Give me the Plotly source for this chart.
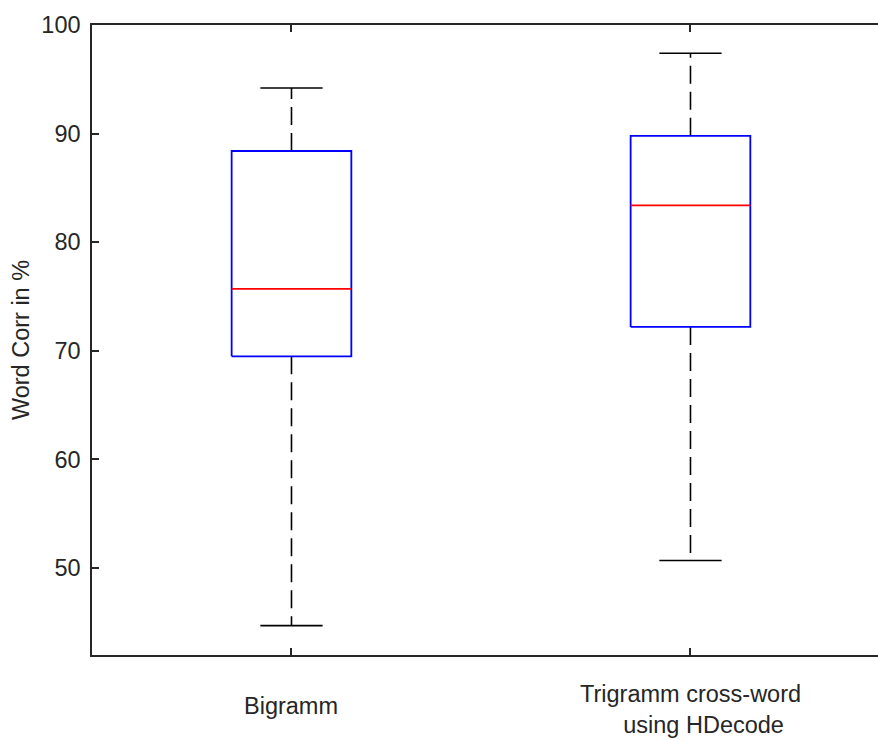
import plotly.graph_objects as go

# Box plot summary statistics (Word Corr in %)
categories = ["Bigramm", "Trigramm cross-word<br>\u00a0\u00a0\u00a0\u00a0using HDecode"]
positions = [1, 2]
lower_whisker = [44.7, 50.7]
q1 = [69.5, 72.2]
median = [75.7, 83.4]
q3 = [88.4, 89.8]
upper_whisker = [94.2, 97.4]

BOX_HALF = 0.15
CAP_HALF = 0.078
FONT = "Liberation Sans, Arial, sans-serif"
INK = "#262626"

fig = go.Figure()

for i, c in enumerate(positions):
    # dashed whiskers from box to caps
    fig.add_trace(go.Scatter(
        x=[c, c], y=[q3[i], upper_whisker[i]], mode="lines",
        line=dict(color="black", width=1.6, dash="18px,8px"), hoverinfo="skip"))
    fig.add_trace(go.Scatter(
        x=[c, c], y=[q1[i], lower_whisker[i]], mode="lines",
        line=dict(color="black", width=1.6, dash="18px,8px"), hoverinfo="skip"))
    # whisker caps
    for w in (upper_whisker[i], lower_whisker[i]):
        fig.add_trace(go.Scatter(
            x=[c - CAP_HALF, c + CAP_HALF], y=[w, w], mode="lines",
            line=dict(color="black", width=1.6), hoverinfo="skip"))
    # interquartile box
    fig.add_trace(go.Scatter(
        x=[c - BOX_HALF, c + BOX_HALF, c + BOX_HALF, c - BOX_HALF, c - BOX_HALF],
        y=[q1[i], q1[i], q3[i], q3[i], q1[i]], mode="lines",
        line=dict(color="#0000ff", width=1.8), hoverinfo="skip"))
    # median
    fig.add_trace(go.Scatter(
        x=[c - BOX_HALF, c + BOX_HALF], y=[median[i], median[i]], mode="lines",
        line=dict(color="#ff0000", width=1.8), hoverinfo="skip"))

# category labels under the axis; multi-line labels sit a little higher
for c, label in zip(positions, categories):
    n_lines = label.count("<br>") + 1
    fig.add_annotation(
        x=c, xref="x", y=0, yref="paper", yanchor="top",
        text=label, showarrow=False, align="center", borderpad=0,
        font=dict(family=FONT, size=23.5, color=INK),
        yshift=-37 + 12 * (n_lines - 1),
    )

fig.update_layout(
    width=878, height=740,
    margin=dict(l=92, r=0, t=25, b=85),
    paper_bgcolor="white", plot_bgcolor="white",
    showlegend=False,
    font=dict(family=FONT, size=23.5, color=INK),
    xaxis=dict(
        range=[0.5, 2.47], tickvals=positions, showticklabels=False,
        showgrid=False, zeroline=False, automargin=False,
        showline=True, linecolor=INK, linewidth=1.5, mirror="ticks",
        ticks="inside", ticklen=7, tickwidth=1.5, tickcolor=INK,
    ),
    yaxis=dict(
        range=[42.0, 100], tickvals=[50, 60, 70, 80, 90, 100],
        showgrid=False, zeroline=False, automargin=False,
        showline=True, linecolor=INK, linewidth=1.5,
        ticks="inside", ticklen=7, tickwidth=1.5, tickcolor=INK,
        ticklabelstandoff=5,
        title=dict(text="Word Corr in %", standoff=5, font=dict(size=23.5)),
    ),
)

fig.write_html("out.html")
